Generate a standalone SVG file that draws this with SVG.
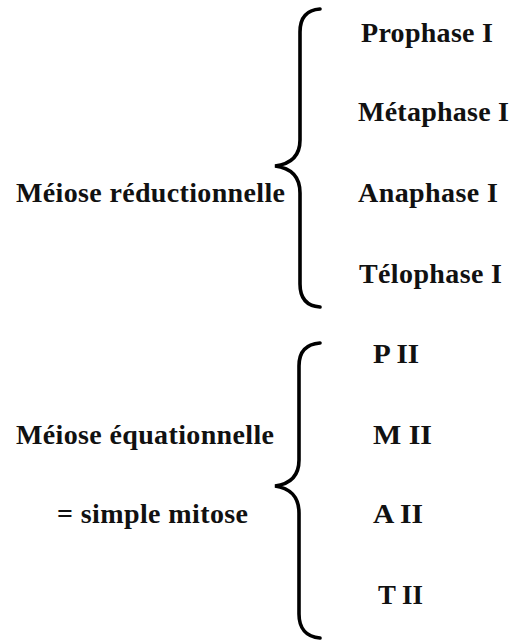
<svg xmlns="http://www.w3.org/2000/svg" width="524" height="641" viewBox="0 0 524 641">
<style>
text{font-family:"Liberation Serif","Times New Roman",serif;font-weight:bold;font-size:28px;fill:#111;}
.brace{fill:none;stroke:#000;stroke-width:3.6;stroke-linecap:round;}
</style>
<rect width="524" height="641" fill="#fff"/>
<g id="connectors">
<path class="brace" d="M320 9 C306 10 300 18 300 32 L300 140 C300 156 291 164 275 166 C291 168 300 177 300 193 L300 284 C300 298 306 306 320 307"/>
<path class="brace" d="M320 343 C306 344 299 352 299 366 L299 460 C299 476 290 484 275 486 C290 488 299 497 299 513 L299 614 C299 628 306 637 320 638"/>
</g>
<g id="meiose-reductionnelle"><text x="16" y="202" textLength="269" lengthAdjust="spacing">Méiose réductionnelle</text></g>
<g id="prophase-1"><text x="361" y="42" textLength="132" lengthAdjust="spacing">Prophase I</text></g>
<g id="metaphase-1"><text x="358" y="121" textLength="151" lengthAdjust="spacing">Métaphase I</text></g>
<g id="anaphase-1"><text x="358" y="202" textLength="140" lengthAdjust="spacing">Anaphase I</text></g>
<g id="telophase-1"><text x="359" y="283" textLength="143" lengthAdjust="spacing">Télophase I</text></g>
<g id="meiose-equationnelle"><text x="16" y="444" textLength="258" lengthAdjust="spacing">Méiose équationnelle</text></g>
<g id="simple-mitose"><text x="57" y="523" textLength="191" lengthAdjust="spacing">= simple mitose</text></g>
<g id="p2"><text x="373" y="363" textLength="46" lengthAdjust="spacingAndGlyphs">P II</text></g>
<g id="m2"><text x="373" y="444" textLength="59" lengthAdjust="spacingAndGlyphs">M II</text></g>
<g id="a2"><text x="373" y="523" textLength="50" lengthAdjust="spacingAndGlyphs">A II</text></g>
<g id="t2"><text x="378" y="604" textLength="45" lengthAdjust="spacingAndGlyphs">T II</text></g>
</svg>
